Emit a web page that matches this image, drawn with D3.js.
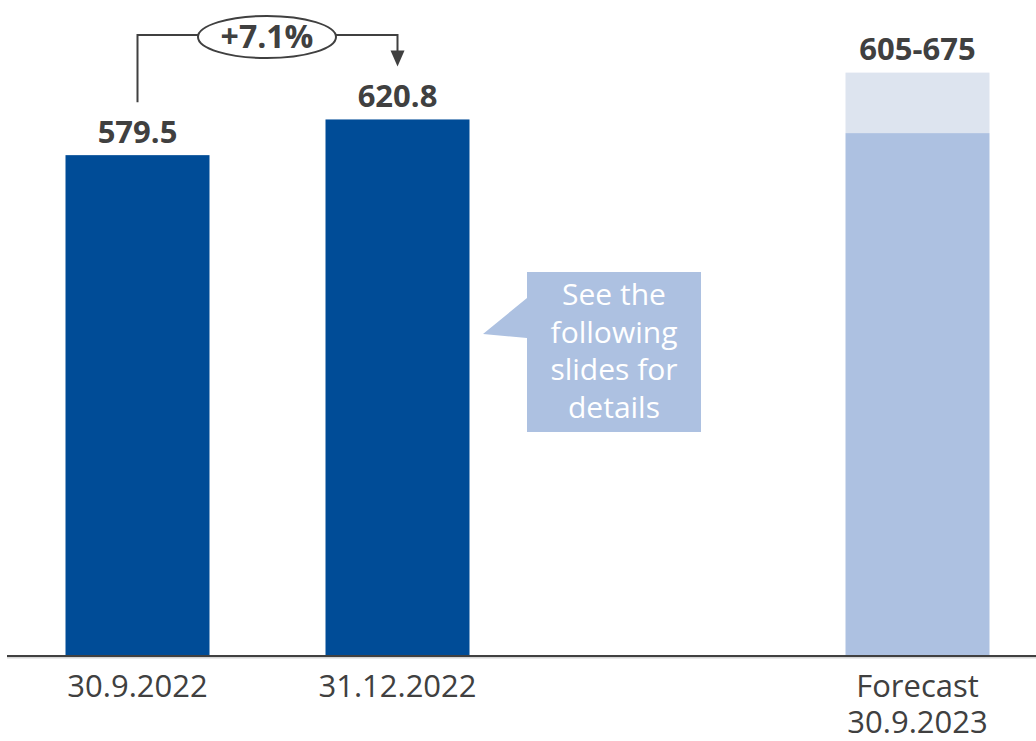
<!DOCTYPE html>
<html>
<head>
<meta charset="utf-8">
<script src="https://cdn.jsdelivr.net/npm/d3@7"></script>
<style>
  html, body { margin: 0; padding: 0; background: #ffffff; }
  svg { display: block; font-family: "Open Sans", "DejaVu Sans", sans-serif; }
</style>
</head>
<body>
<svg id="chart" width="1036" height="741"></svg>
<script>
// Slots along the x axis (the empty slot leaves a gap before the forecast)
const slots = ["30.9.2022", "31.12.2022", "", "Forecast|30.9.2023"];
// Actual values
const actualDates = ["30.9.2022", "31.12.2022"];
const actualValues = [579.5, 620.8];
// Forecast range
const forecastSlot = "Forecast|30.9.2023";
const forecastLow = 605;
const forecastHigh = 675;
// Growth between the two actuals
const changeLabel = "+7.1%";
const noteLines = ["See the", "following", "slides for", "details"];

const svg = d3.select("#chart");
const textColor = "#404040";
const darkBlue = "#004c97";
const midBlue = "#adc1e1";
const paleBlue = "#dde4ef";

const x = d3.scaleBand()
  .domain(slots)
  .range([65.5, 989.5])
  .paddingInner(116 / 260)
  .paddingOuter(0);

const y = d3.scaleLinear()
  .domain([0, 700])
  .range([656, 51]);

const fmt = d3.format(".1f");

// Actual bars
svg.selectAll("rect.actual")
  .data(actualDates.map((d, i) => ({ d, v: actualValues[i] })))
  .join("rect")
  .attr("class", "actual")
  .attr("x", d => x(d.d))
  .attr("width", x.bandwidth())
  .attr("y", d => y(d.v))
  .attr("height", d => y(0) - y(d.v))
  .attr("fill", darkBlue);

// Forecast bar: solid up to the low end, pale band up to the high end
svg.append("rect")
  .attr("x", x(forecastSlot))
  .attr("width", x.bandwidth())
  .attr("y", y(forecastHigh))
  .attr("height", y(forecastLow) - y(forecastHigh))
  .attr("fill", paleBlue);
svg.append("rect")
  .attr("x", x(forecastSlot))
  .attr("width", x.bandwidth())
  .attr("y", y(forecastLow))
  .attr("height", y(0) - y(forecastLow))
  .attr("fill", midBlue);

// Value labels
svg.selectAll("text.val")
  .data(actualDates.map((d, i) => ({ d, v: actualValues[i] })))
  .join("text")
  .attr("class", "val")
  .attr("x", d => x(d.d) + x.bandwidth() / 2)
  .attr("y", d => y(d.v) - 12)
  .attr("text-anchor", "middle")
  .attr("font-size", 31)
  .attr("font-weight", 700)
  .attr("fill", textColor)
  .text(d => fmt(d.v));

svg.append("text")
  .attr("x", x(forecastSlot) + x.bandwidth() / 2)
  .attr("y", y(forecastHigh) - 13)
  .attr("text-anchor", "middle")
  .attr("font-size", 31)
  .attr("font-weight", 700)
  .attr("fill", textColor)
  .text(`${forecastLow}-${forecastHigh}`);

// Baseline axis
const axis = d3.axisBottom(x).tickSize(0).tickFormat("");
const axisG = svg.append("g")
  .attr("transform", `translate(0,${y(0)})`)
  .call(axis);
axisG.select(".domain").remove();
axisG.append("line")
  .attr("x1", 7).attr("x2", 1036)
  .attr("y1", 1.5).attr("y2", 1.5)
  .attr("stroke", "#d6d6d6").attr("stroke-width", 2);
axisG.append("line")
  .attr("x1", 7).attr("x2", 1036)
  .attr("y1", 0).attr("y2", 0)
  .attr("stroke", textColor).attr("stroke-width", 2.2);

// Category labels (multi-line where needed)
slots.filter(s => s !== "").forEach(s => {
  const lines = s.split("|");
  const t = svg.append("text")
    .attr("text-anchor", "middle")
    .attr("font-size", 31)
    .attr("fill", textColor);
  lines.forEach((ln, i) => {
    t.append("tspan")
      .attr("x", x(s) + x.bandwidth() / 2)
      .attr("y", 697 + i * 36)
      .text(ln);
  });
});

// Growth annotation: bracket from first bar to second, with ellipse label
const cx1 = x(actualDates[0]) + x.bandwidth() / 2;
const cx2 = x(actualDates[1]) + x.bandwidth() / 2;
const lineY = 35;
const ellCx = 267, ellRx = 69, ellRy = 21, ellCy = 37;
const ann = svg.append("g").attr("stroke", textColor).attr("stroke-width", 2).attr("fill", "none");
ann.append("path")
  .attr("d", `M${cx1},${y(actualValues[0]) - 53} V${lineY} H${ellCx - ellRx}`);
ann.append("path")
  .attr("d", `M${ellCx + ellRx},${lineY} H${cx2} V${y(actualValues[1]) - 60}`);
ann.append("ellipse")
  .attr("cx", ellCx).attr("cy", ellCy)
  .attr("rx", ellRx).attr("ry", ellRy)
  .attr("fill", "#ffffff");
svg.append("path")
  .attr("d", `M${cx2 - 7},${y(actualValues[1]) - 69} L${cx2 + 7},${y(actualValues[1]) - 69} L${cx2},${y(actualValues[1]) - 53} Z`)
  .attr("fill", textColor);
svg.append("text")
  .attr("x", ellCx).attr("y", 48)
  .attr("text-anchor", "middle")
  .attr("font-size", 32)
  .attr("font-weight", 700)
  .attr("fill", textColor)
  .text(changeLabel);

// Callout bubble pointing at the second bar
const bx = 527, by = 272, bw = 174, bh = 160;
svg.append("path")
  .attr("d", `M${bx},${by} H${bx + bw} V${by + bh} H${bx} V338 L483,334 L${bx},298 Z`)
  .attr("fill", midBlue);
const note = svg.append("text")
  .attr("text-anchor", "middle")
  .attr("font-size", 30)
  .attr("fill", "#ffffff");
noteLines.forEach((ln, i) => {
  note.append("tspan")
    .attr("x", bx + bw / 2)
    .attr("y", 305 + i * 37.7)
    .text(ln);
});
</script>
</body>
</html>
